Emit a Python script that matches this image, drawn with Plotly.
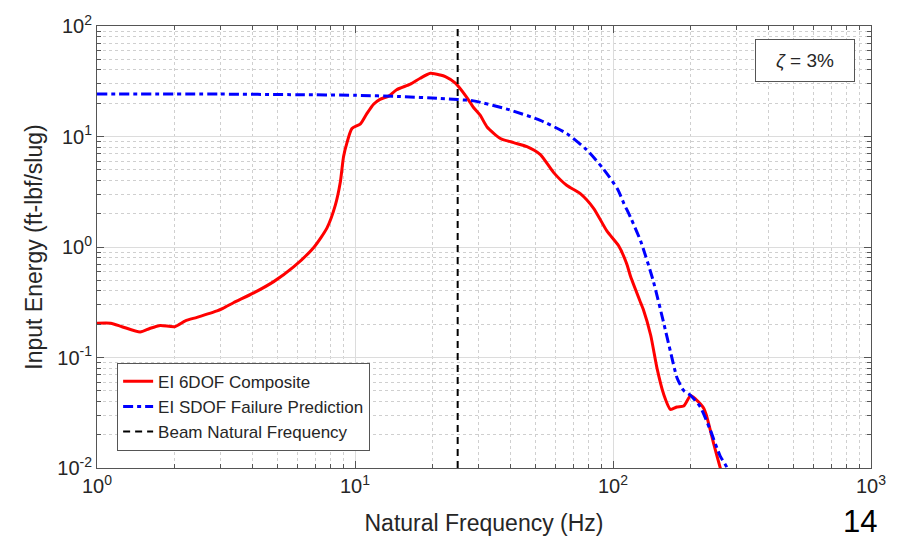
import plotly.graph_objects as go

# ---- data ----
freq_6dof = [1.0, 1.13, 1.25, 1.47, 1.6, 1.76, 2.0, 2.2, 2.44, 2.92, 3.09, 3.38, 4.05, 4.84,
             5.78, 6.92, 7.79, 8.39, 8.77, 9.03, 9.31, 9.73, 10.5, 11.1, 11.8, 12.5, 13.5,
             14.5, 16.4, 17.9, 19.6, 21.4, 22.4, 24.5, 27.2, 28.8, 30.6, 32.5, 36.6, 41.2,
             46.4, 52.3, 58.9, 66.3, 74.7, 84.1, 94.8, 105, 113, 117, 128, 131, 140, 148,
             157, 167, 177, 188, 200, 209, 225, 231, 245, 259, 266]
energy_6dof = [0.204, 0.204, 0.19, 0.170, 0.183, 0.195, 0.19, 0.215, 0.231, 0.264, 0.28, 0.313,
               0.384, 0.486, 0.66, 0.99, 1.49, 2.39, 3.85, 6.6, 8.8, 11.8, 13.0, 16.0, 19.6,
               21.7, 23.2, 26.5, 29.8, 33.7, 37.3, 36.0, 34.8, 30.4, 22.4, 18.3, 15.5, 12.2,
               9.6, 8.8, 8.1, 6.86, 4.71, 3.6, 3.04, 2.24, 1.39, 1.03, 0.706, 0.54, 0.313,
               0.273, 0.159, 0.0805, 0.0469, 0.0339, 0.0357, 0.0364, 0.0453, 0.042, 0.0346,
               0.0292, 0.017, 0.0105, 0.0085]

freq_sdof = [1.0, 3.0, 6.0, 10.0, 15.0, 21.4, 25.0, 28.8, 38.8, 52.3, 66.3, 79.0, 92.0, 104,
             110, 117, 128, 143, 157, 167, 177, 188, 200, 218, 238, 260, 276, 285]
energy_sdof = [24.3, 24.2, 23.9, 23.6, 23.0, 22.1, 21.6, 21.0, 17.7, 14.0, 10.6, 7.6, 5.05,
               3.36, 2.5, 1.85, 1.13, 0.50, 0.208, 0.113, 0.0657, 0.0502, 0.0453,
               0.0357, 0.0222, 0.0129, 0.0102, 0.0085]

beam_freq = 25.0
y_limits = [1e-2, 1e2]

x_tickvals = [1, 10, 100, 1000]
x_ticktext = ["10<sup>0</sup>", "10<sup>1</sup>", "10<sup>2</sup>", "10<sup>3</sup>"]
y_tickvals = [0.01, 0.1, 1, 10, 100]
y_ticktext = ["10<sup>-2</sup>", "10<sup>-1</sup>", "10<sup>0</sup>", "10<sup>1</sup>", "10<sup>2</sup>"]

x_minor = [m * 10 ** k for k in range(0, 3) for m in range(2, 10)]
y_minor = [m * 10 ** k for k in range(-2, 2) for m in range(2, 10)]

FONT = "Liberation Sans, Arial, sans-serif"
TXT = "#262626"
FRAME = "#555555"

fig = go.Figure()
fig.add_trace(go.Scatter(x=freq_6dof, y=energy_6dof, mode="lines", name="EI 6DOF Composite",
                         line=dict(color="#ff0000", width=3, shape="spline", smoothing=0.6)))
fig.add_trace(go.Scatter(x=freq_sdof, y=energy_sdof, mode="lines", name="EI SDOF Failure Prediction",
                         line=dict(color="#0000ff", width=3, dash="10px,4px,4px,4px",
                                   shape="spline", smoothing=0.6)))
fig.add_trace(go.Scatter(x=[beam_freq, beam_freq], y=y_limits, mode="lines",
                         name="Beam Natural Frequency",
                         line=dict(color="#000000", width=2, dash="7px,5px")))

axis_common = dict(
    type="log", showline=True, linecolor=FRAME, linewidth=1, mirror="allticks",
    ticks="inside", ticklen=7, tickwidth=1, tickcolor=FRAME,
    showgrid=True, gridcolor="#dcdcdc", gridwidth=1, zeroline=False,
    tickmode="array", tickfont=dict(family=FONT, size=20, color=TXT),
)

fig.update_xaxes(
    **axis_common, range=[0, 3], tickvals=x_tickvals, ticktext=x_ticktext,
    title=dict(text="Natural Frequency (Hz)", font=dict(family=FONT, size=23, color=TXT), standoff=18),
    minor=dict(tickmode="array", tickvals=x_minor, ticks="inside", ticklen=4, tickcolor=FRAME,
               showgrid=True, gridcolor="#cfcfcf", griddash="dot", gridwidth=1),
)
fig.update_yaxes(
    **axis_common, range=[-2, 2], tickvals=y_tickvals, ticktext=y_ticktext,
    title=dict(text="Input Energy (ft-lbf/slug)", font=dict(family=FONT, size=23, color=TXT), standoff=8),
    minor=dict(tickmode="array", tickvals=y_minor, ticks="inside", ticklen=4, tickcolor=FRAME,
               showgrid=True, gridcolor="#cfcfcf", griddash="dot", gridwidth=1),
)

fig.update_layout(
    width=898, height=543,
    margin=dict(l=97, r=27, t=16, b=74),
    paper_bgcolor="white", plot_bgcolor="white",
    font=dict(family=FONT, color=TXT),
    showlegend=True,
    legend=dict(x=0.026, y=0.238, xanchor="left", yanchor="top",
                bgcolor="white", bordercolor=FRAME, borderwidth=1,
                font=dict(family=FONT, size=17, color=TXT)),
    annotations=[
        dict(xref="paper", yref="paper", x=0.915, y=0.921, xanchor="center", yanchor="middle",
             text="<i>ζ</i> = 3%", showarrow=False, font=dict(family=FONT, size=19, color=TXT),
             bordercolor=FRAME, borderwidth=1, bgcolor="white", width=94, height=37, borderpad=2),
        dict(xref="paper", yref="paper", x=0.986, y=-0.121, xanchor="center", yanchor="middle",
             text="14", showarrow=False, font=dict(family=FONT, size=31, color="#000000")),
    ],
)

fig.write_html("out.html")
